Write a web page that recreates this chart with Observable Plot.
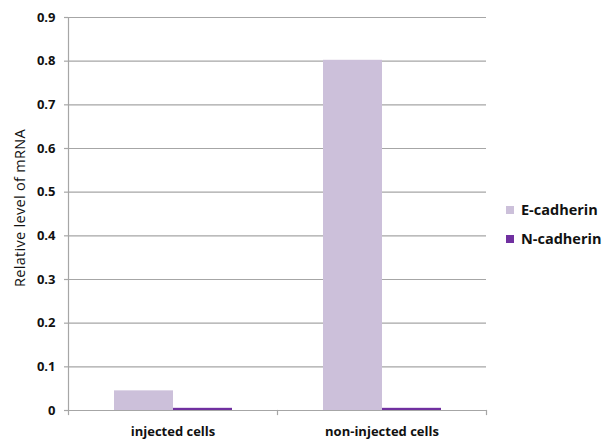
<!DOCTYPE html>
<html>
<head>
<meta charset="utf-8">
<script src="https://cdn.jsdelivr.net/npm/d3@7"></script>
<script src="https://cdn.jsdelivr.net/npm/@observablehq/plot@0.6"></script>
<style>
  html, body { margin: 0; padding: 0; background: #fff; }
  #chart { position: relative; width: 608px; height: 440px; font-family: "Open Sans", sans-serif; }
  #ylabel { position: absolute; left: 19px; top: 208px; transform: translate(-50%, -50%) rotate(-90deg); white-space: nowrap; font-size: 14.5px; letter-spacing: 0.3px; color: #111; }
  #legend { position: absolute; left: 506px; top: 195px; font-size: 14.5px; font-weight: bold; color: #111; }
  .lg { display: flex; align-items: center; height: 29px; }
  .sw { width: 8px; height: 8px; margin-right: 7px; }
</style>
</head>
<body>
<div id="chart"></div>
<script>
const groups = ["injected cells", "non-injected cells"];
const series = ["E-cadherin", "N-cadherin"];
const eCadherin = [0.045, 0.802];
const nCadherin = [0.005, 0.005];
const colors = ["#ccc0da", "#7030a0"];
const yTicks = [0, 0.1, 0.2, 0.3, 0.4, 0.5, 0.6, 0.7, 0.8, 0.9];
const yLabel = "Relative level of mRNA";

const data = [];
groups.forEach((g, i) => {
  data.push({group: g, series: series[0], value: eCadherin[i]});
  data.push({group: g, series: series[1], value: nCadherin[i]});
});

const W = 608, H = 440, mT = 17, mB = 30, mL = 67, mR = 122;
const innerH = H - mT - mB;
const gray = "#a6a6a6";

const chart = Plot.plot({
  width: W, height: H,
  marginTop: mT, marginBottom: mB, marginLeft: mL, marginRight: mR,
  style: {fontFamily: "'Open Sans', sans-serif", background: "#fff"},
  fx: {domain: groups, padding: 0, paddingInner: 0, paddingOuter: 0},
  x: {domain: series, paddingInner: 0, paddingOuter: 0.75, axis: null},
  y: {domain: [0, 0.9]},
  color: {domain: series, range: colors},
  marks: [
    Plot.gridY(yTicks, {stroke: gray, strokeOpacity: 1, strokeWidth: 1.2}),
    Plot.axisY(yTicks, {tickSize: 4, tickPadding: 9, stroke: gray, strokeWidth: 1.2, label: null,
      tickFormat: d => d === 0 ? "0" : d.toFixed(1), fontSize: 13, fontWeight: "bold", fill: "#111"}),
    Plot.axisFx({anchor: "bottom", tickSize: 0, tickPadding: 16, label: null, fontSize: 13, fontWeight: "bold", fill: "#111"}),
    Plot.barY(data, {fx: "group", x: "series", y: "value", fill: "series"}),
    Plot.frame({anchor: "left", facetAnchor: "left", stroke: gray, strokeWidth: 1.2}),
    Plot.frame({anchor: "left", insetTop: innerH, insetBottom: -4, stroke: gray, strokeWidth: 1.2}),
    Plot.frame({anchor: "right", facetAnchor: "right", insetTop: innerH, insetBottom: -4, stroke: gray, strokeWidth: 1.2}),
    Plot.ruleY([0], {stroke: gray, strokeWidth: 1.2})
  ]
});

const root = document.getElementById("chart");
root.appendChild(chart);

const yl = document.createElement("div");
yl.id = "ylabel";
yl.textContent = yLabel;
root.appendChild(yl);

const lg = document.createElement("div");
lg.id = "legend";
series.forEach((s, i) => {
  const row = document.createElement("div");
  row.className = "lg";
  const sw = document.createElement("div");
  sw.className = "sw";
  sw.style.background = colors[i];
  const t = document.createElement("span");
  t.textContent = s;
  row.appendChild(sw);
  row.appendChild(t);
  lg.appendChild(row);
});
root.appendChild(lg);
</script>
</body>
</html>
